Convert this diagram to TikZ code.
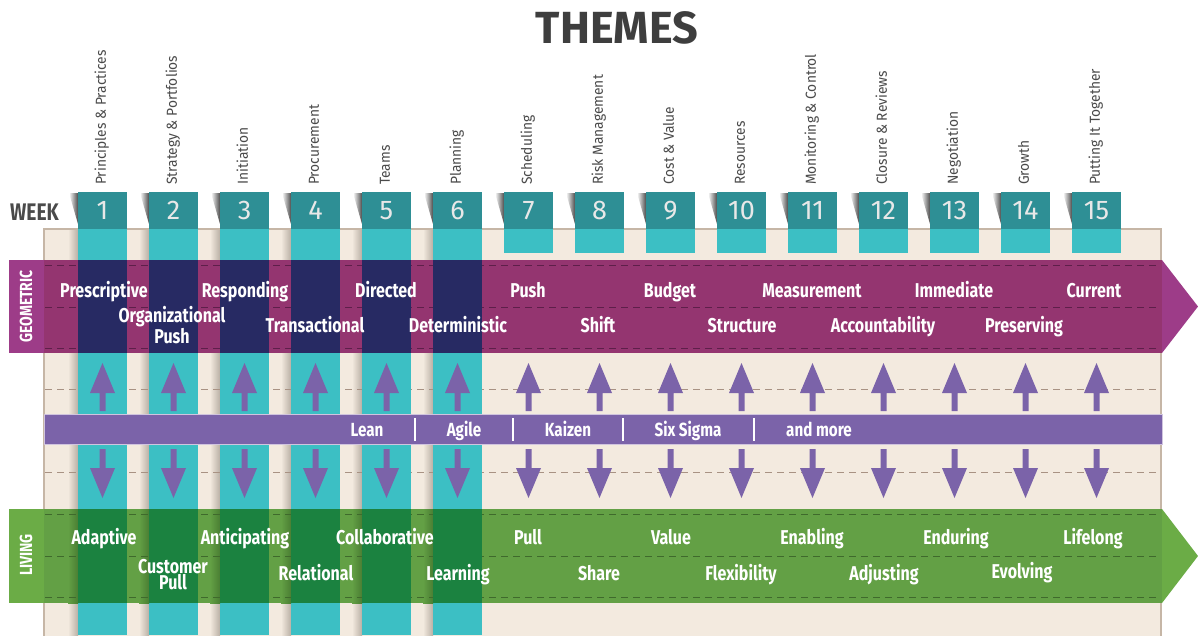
\documentclass[tikz,border=0pt]{standalone}
\usepackage{fontspec}
\setmainfont{Fira Sans}
\newfontfamily\cf[FakeStretch=0.80]{Fira Sans}
\newfontfamily\lf[FakeStretch=0.95]{Fira Sans}
\newfontfamily\nf{Fira Sans}
\definecolor{teal}{HTML}{3CBFC4}
\definecolor{tealdk}{HTML}{2E8F95}
\definecolor{beige}{HTML}{F3EADF}
\definecolor{beigeshade}{HTML}{B9AFA4}
\definecolor{beigeborder}{HTML}{C6B6A6}
\definecolor{geo}{HTML}{943570}
\definecolor{geolab}{HTML}{9D3C88}
\definecolor{navy}{HTML}{272A63}
\definecolor{liv}{HTML}{63A045}
\definecolor{livshade}{HTML}{4A7E33}
\definecolor{livlab}{HTML}{6BAC46}
\definecolor{livdk}{HTML}{1B8240}
\definecolor{midp}{HTML}{7B63A9}
\definecolor{midborder}{HTML}{D0C4DE}
\definecolor{dashbeige}{HTML}{A89283}
\definecolor{dashgeo}{HTML}{5E1F4A}
\definecolor{dashliv}{HTML}{3F6A2C}
\definecolor{titlegray}{HTML}{3E3E3E}
\definecolor{labgray}{HTML}{4A4A4A}
\definecolor{numwhite}{HTML}{E8E8E8}
\begin{document}
\begin{tikzpicture}[x=1pt,y=-1pt,
  bt/.style={font=\cf\bfseries\fontsize{20}{20}\selectfont, text=white, inner sep=0pt, anchor=base},
  bt2/.style={font=\cf\bfseries\fontsize{20}{16.5}\selectfont, text=white, inner sep=0pt, anchor=base, align=center},
  mt/.style={font=\cf\bfseries\fontsize{19}{19}\selectfont, text=white, inner sep=0pt, anchor=base},
  th/.style={font=\lf\fontsize{14.5}{14.5}\selectfont, text=labgray, inner sep=0pt, rotate=90, anchor=base west},
  num/.style={font=\nf\fontsize{27}{27}\selectfont, text=numwhite, inner sep=0pt, anchor=base},
  sidelab/.style={font=\cf\bfseries\fontsize{17.5}{17.5}\selectfont, text=white, inner sep=0pt, rotate=90, anchor=center},
  dashb/.style={dash pattern=on 7pt off 5pt, line width=0.9pt},
  arr/.style={fill=midp}
]
\useasboundingbox (0,0) rectangle (1198,635);
\fill[white] (0,0) rectangle (1198,635);

% title
\node[font=\nf\bfseries\fontsize{45}{45}\selectfont, text=titlegray, inner sep=0pt, anchor=base] (title) at (617,43) {THEMES};
\node[font=\cf\bfseries\fontsize{24}{24}\selectfont, text=labgray, inner sep=0pt, anchor=base west] (week) at (10,220) {WEEK};

% beige panel
\fill[beige, draw=beigeborder, line width=2pt] (44,229) rectangle (1161,640);

% shadows left of long columns (beige parts)
\foreach \i in {1,...,6}{
  \pgfmathsetmacro\xl{78+71*(\i-1)}
  \shade[left color=beige, right color=beigeshade] (\xl-10,230) rectangle (\xl,635);
}
% dashed lines in beige
\draw[dashb, dashbeige] (45,389) -- (1160,389);
\draw[dashb, dashbeige] (45,472) -- (1160,472);

% teal columns
\foreach \i in {1,...,15}{
  \pgfmathsetmacro\xl{78+71*(\i-1)}
  \ifnum\i<7
    \fill[teal] (\xl,229) rectangle (\xl+49,635);
  \else
    \fill[teal] (\xl,229) rectangle (\xl+49,253);
  \fi
  \shade[left color=white, right color=black!70] (\xl-9,193) -- (\xl,193) -- (\xl,224) -- cycle;
  \fill[tealdk] (\xl,192) rectangle (\xl+49,229);
}

% theme labels and numbers
\foreach \i/\t in {1/Principles \& Practices, 2/Strategy \& Portfolios, 3/Initiation, 4/Procurement, 5/Teams, 6/Planning, 7/Scheduling, 8/Risk Management, 9/Cost \& Value, 10/Resources, 11/Monitoring \& Control, 12/Closure \& Reviews, 13/Negotiation, 14/Growth, 15/Putting It Together}{
  \pgfmathsetmacro\cx{102.5+71*(\i-1)}
  \node[th] (th\i) at (\cx+3.3,185) {\t};
  \node[num] (n\i) at (\cx,219) {\i};
}

% GEOMETRIC band
\fill[geo] (44,260) rectangle (1162,353);
\fill[geolab] (9,260) rectangle (44,353);
\fill[geolab] (1162,260) -- (1198,306.5) -- (1162,353) -- cycle;
\foreach \y in {265,307,348}{
  \draw[dashb, dashgeo] (45,\y) -- (1160,\y);
}
\foreach \i in {1,...,6}{
  \pgfmathsetmacro\xl{78+71*(\i-1)}
  \fill[navy] (\xl,260) rectangle (\xl+49,353);
}
\node[sidelab] (geolabel) at (26,306.5) {GEOMETRIC};

% LIVING band
\fill[liv] (44,509) rectangle (1162,603);
\fill[livlab] (9,509) rectangle (44,603);
\fill[livlab] (1162,509) -- (1198,556) -- (1162,603) -- cycle;
\foreach \i in {1,...,6}{
  \pgfmathsetmacro\xl{78+71*(\i-1)}
  \shade[left color=liv, right color=livshade] (\xl-10,509) rectangle (\xl,603);
}
\foreach \y in {514,556,597}{
  \draw[dashb, dashliv] (45,\y) -- (1160,\y);
}
\foreach \i in {1,...,6}{
  \pgfmathsetmacro\xl{78+71*(\i-1)}
  \fill[livdk] (\xl,509) rectangle (\xl+49,603);
}
\node[sidelab] (livlabel) at (26,555) {LIVING};

% middle band
\fill[midp, draw=midborder, line width=1pt] (44,414) rectangle (1162,444);

% arrows
\foreach \i in {1,...,15}{
  \pgfmathsetmacro\cx{102.5+71*(\i-1)}
  \fill[arr] (\cx-3,411) -- (\cx-3,393) -- (\cx-12.5,393) -- (\cx,363) -- (\cx+12.5,393) -- (\cx+3,393) -- (\cx+3,411) -- cycle;
  \fill[arr] (\cx-3,449) -- (\cx-3,468) -- (\cx-12.5,468) -- (\cx,498) -- (\cx+12.5,468) -- (\cx+3,468) -- (\cx+3,449) -- cycle;
}

% middle texts
\node[mt] (lean) at (367,436) {Lean};
\node[mt] (agile) at (464,436) {Agile};
\node[mt] (kaizen) at (568,436) {Kaizen};
\node[mt] (sixsigma) at (688,436) {Six Sigma};
\node[mt] (andmore) at (819,436) {and more};
\foreach \x in {415,513,623,754}{
  \draw[white, line width=1.6pt] (\x,418) -- (\x,441);
}

% geometric texts
\node[bt] (g1) at (104,297) {Prescriptive};
\node[bt] (g2) at (245,297) {Responding};
\node[bt] (g3) at (386,297) {Directed};
\node[bt] (g4) at (528,297) {Push};
\node[bt] (g5) at (670,297) {Budget};
\node[bt] (g6) at (812,297) {Measurement};
\node[bt] (g7) at (954,297) {Immediate};
\node[bt] (g8) at (1094,297) {Current};
\node[bt2] (h1) at (172,343) {Organizational\\Push};
\node[bt] (h2) at (315,332) {Transactional};
\node[bt] (h3) at (458,332) {Deterministic};
\node[bt] (h4) at (598,332) {Shift};
\node[bt] (h5) at (742,332) {Structure};
\node[bt] (h6) at (883,332) {Accountability};
\node[bt] (h7) at (1024,332) {Preserving};

% living texts
\node[bt] (l1) at (104,544) {Adaptive};
\node[bt] (l2) at (245,544) {Anticipating};
\node[bt] (l3) at (385,544) {Collaborative};
\node[bt] (l4) at (528,544) {Pull};
\node[bt] (l5) at (671,544) {Value};
\node[bt] (l6) at (812,544) {Enabling};
\node[bt] (l7) at (956,544) {Enduring};
\node[bt] (l8) at (1093,544) {Lifelong};
\node[bt2] (m1) at (173,589.5) {Customer\\Pull};
\node[bt] (m2) at (316,580) {Relational};
\node[bt] (m3) at (458,580) {Learning};
\node[bt] (m4) at (599,580) {Share};
\node[bt] (m5) at (741,580) {Flexibility};
\node[bt] (m6) at (884,580) {Adjusting};
\node[bt] (m7) at (1022,578) {Evolving};
\end{tikzpicture}
\end{document}
